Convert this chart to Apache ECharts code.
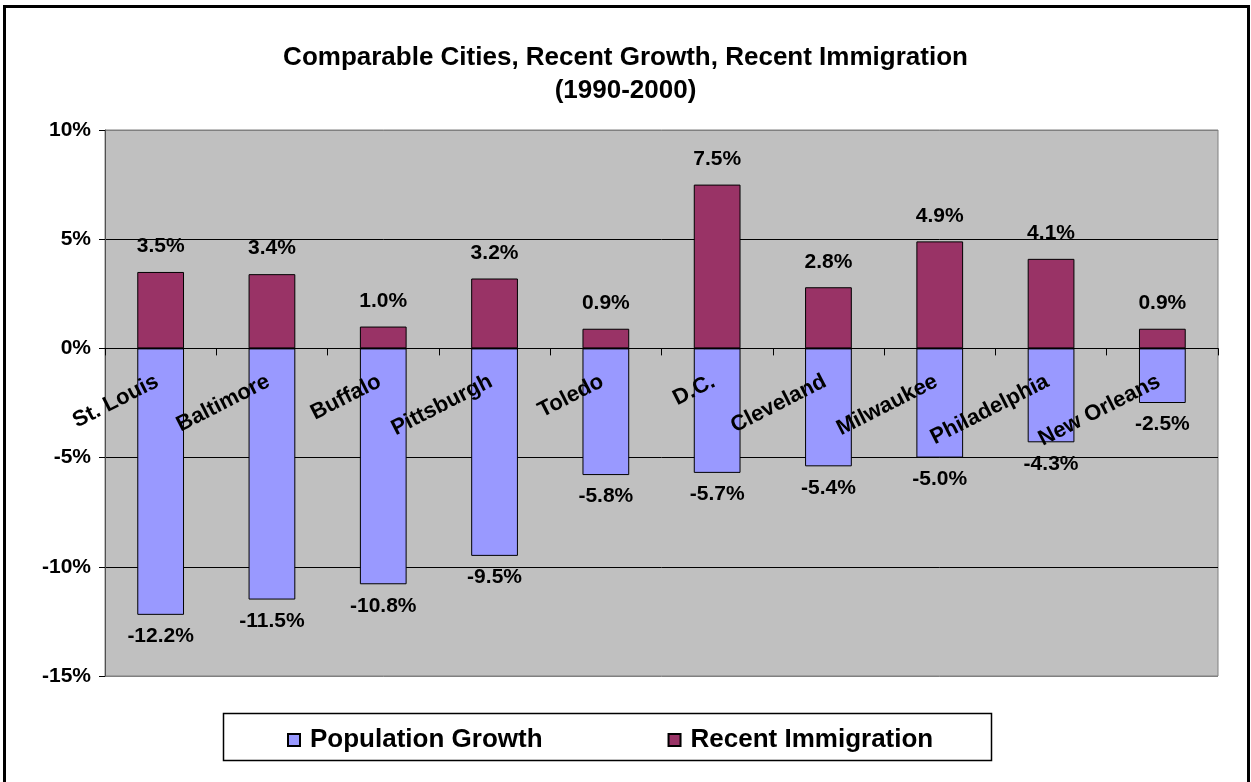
<!DOCTYPE html>
<html>
<head>
<meta charset="utf-8">
<script src="https://cdn.jsdelivr.net/npm/echarts@6/dist/echarts.min.js"></script>
<style>
  html, body { margin: 0; padding: 0; background: #ffffff; }
  #chart { width: 1251px; height: 782px; }
</style>
</head>
<body>
<div id="chart"></div>
<script>
// City names along the category axis
const cities = ['St. Louis', 'Baltimore', 'Buffalo', 'Pittsburgh', 'Toledo',
                'D.C.', 'Cleveland', 'Milwaukee', 'Philadelphia', 'New Orleans'];
// Population change 1990-2000, percent
const populationGrowth = [-12.2, -11.5, -10.8, -9.5, -5.8, -5.7, -5.4, -5.0, -4.3, -2.5];
// Share of recent immigrants, percent
const recentImmigration = [3.5, 3.4, 1.0, 3.2, 0.9, 7.5, 2.8, 4.9, 4.1, 0.9];
// Value axis ticks
const yTicks = [-15, -10, -5, 0, 5, 10];

const FONT = '"Liberation Sans", Arial, sans-serif';
const pct1 = v => v.toFixed(1) + '%';

// plot box in pixels
const GRID = { left: 105, right: 33, top: 130, bottom: 106 };
const plotH = 782 - GRID.top - GRID.bottom;
const yMin = yTicks[0], yMax = yTicks[yTicks.length - 1];
// shift the category axis (line, ticks, labels) up to the zero line
const zeroOffset = -plotH * (0 - yMin) / (yMax - yMin);
// gridlines are black inside the plot, grey where they meet the plot frame
const splitColors = yTicks.map((t, i) => (i === 0 || i === yTicks.length - 1) ? '#808080' : '#000');

const chart = echarts.init(document.getElementById('chart'), null, { renderer: 'canvas' });

chart.setOption({
  backgroundColor: '#ffffff',
  animation: false,
  title: {
    text: 'Comparable Cities, Recent Growth, Recent Immigration\n(1990-2000)',
    left: 'center',
    top: 36,
    textStyle: {
      fontFamily: FONT, fontWeight: 'bold', fontSize: 26, lineHeight: 33, color: '#000',
      align: 'center'
    }
  },
  graphic: [
    { // outer frame
      type: 'rect', z: 0,
      shape: { x: 4.5, y: 6.5, width: 1244, height: 800 },
      style: { fill: 'none', stroke: '#000', lineWidth: 3 }
    },
    { // legend box
      type: 'rect', z: 0,
      shape: { x: 223.5, y: 713.5, width: 768, height: 47 },
      style: { fill: '#fff', stroke: '#000', lineWidth: 1.5 }
    }
  ],
  legend: {
    z: 10,
    left: 287,
    top: 727,
    padding: 0,
    itemWidth: 12,
    itemHeight: 12,
    itemGap: 125,
    icon: 'rect',
    data: ['Population Growth', 'Recent Immigration'],
    textStyle: {
      fontFamily: FONT, fontWeight: 'bold', fontSize: 26, color: '#000',
      padding: [0, 0, 0, 5]
    }
  },
  grid: {
    left: GRID.left, right: GRID.right, top: GRID.top, bottom: GRID.bottom,
    show: true,
    backgroundColor: '#C0C0C0',
    borderColor: '#808080',
    borderWidth: 1
  },
  xAxis: {
    type: 'category',
    data: cities,
    boundaryGap: true,
    position: 'bottom',
    offset: zeroOffset,
    axisLine: { onZero: false, lineStyle: { color: '#000', width: 1 } },
    axisTick: { show: true, length: 7, lineStyle: { color: '#000' } },
    axisLabel: {
      interval: 0,
      rotate: 27,
      margin: 30,
      padding: [0, 4, 0, 0],
      fontFamily: FONT, fontWeight: 'bold', fontSize: 22, color: '#000'
    },
    z: 5
  },
  yAxis: {
    type: 'value',
    min: yMin,
    max: yMax,
    interval: 5,
    axisLine: { show: true, lineStyle: { color: '#505050' } },
    axisTick: { show: true, length: 6, lineStyle: { color: '#000' } },
    splitLine: { show: true, lineStyle: { color: splitColors, width: 1 } },
    axisLabel: {
      margin: 14,
      formatter: v => v + '%',
      fontFamily: FONT, fontWeight: 'bold', fontSize: 21, color: '#000'
    }
  },
  series: [
    {
      name: 'Population Growth',
      type: 'bar',
      data: populationGrowth,
      barWidth: '42%',
      barGap: '-100%',
      itemStyle: { color: '#9999FF', borderColor: '#000', borderWidth: 1 },
      label: {
        show: true, position: 'bottom', distance: 11,
        formatter: p => pct1(p.value),
        fontFamily: FONT, fontWeight: 'bold', fontSize: 21, color: '#000'
      }
    },
    {
      name: 'Recent Immigration',
      type: 'bar',
      data: recentImmigration,
      barWidth: '42%',
      itemStyle: { color: '#993366', borderColor: '#000', borderWidth: 1 },
      label: {
        show: true, position: 'top', distance: 15,
        formatter: p => pct1(p.value),
        fontFamily: FONT, fontWeight: 'bold', fontSize: 21, color: '#000'
      }
    }
  ]
});
</script>
</body>
</html>
